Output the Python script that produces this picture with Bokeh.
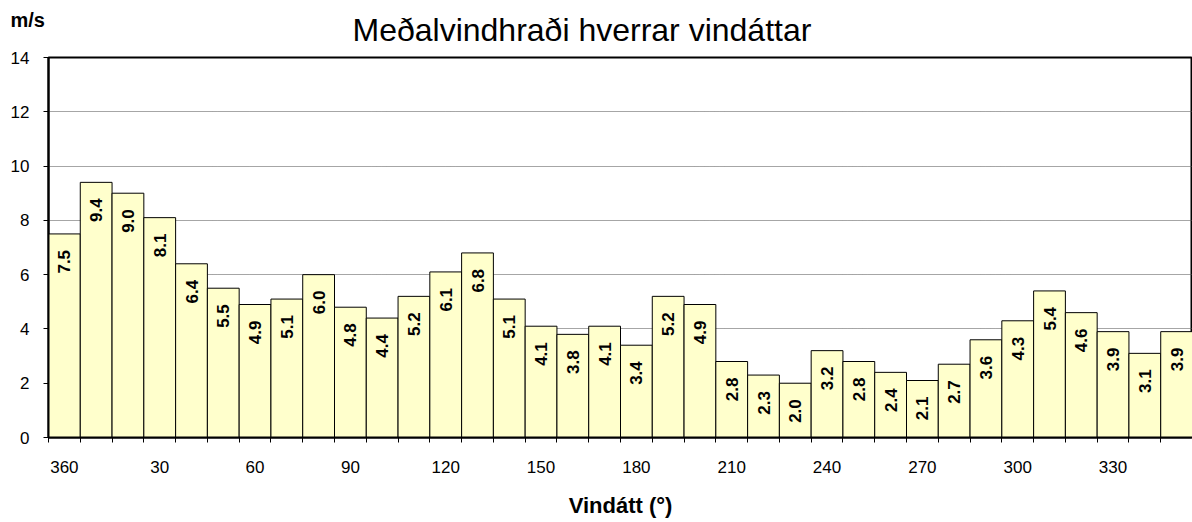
from math import pi
from bokeh.plotting import figure
from bokeh.models import ColumnDataSource, FixedTicker, Range1d, Title
from bokeh.core.properties import value
from bokeh.embed import file_html
from bokeh.resources import INLINE

title_text = "Meðalvindhraði hverrar vindáttar"
y_unit = "m/s"
x_title = "Vindátt (°)"

directions = [360, 10, 20, 30, 40, 50, 60, 70, 80, 90, 100, 110,
              120, 130, 140, 150, 160, 170, 180, 190, 200, 210, 220, 230,
              240, 250, 260, 270, 280, 290, 300, 310, 320, 330, 340, 350]
speeds = [7.5, 9.4, 9.0, 8.1, 6.4, 5.5, 4.9, 5.1, 6.0, 4.8, 4.4, 5.2,
          6.1, 6.8, 5.1, 4.1, 3.8, 4.1, 3.4, 5.2, 4.9, 2.8, 2.3, 2.0,
          3.2, 2.8, 2.4, 2.1, 2.7, 3.6, 4.3, 5.4, 4.6, 3.9, 3.1, 3.9]
labeled_directions = [360, 30, 60, 90, 120, 150, 180, 210, 240, 270, 300, 330]
y_ticks = [0, 2, 4, 6, 8, 10, 12, 14]

pos = list(range(len(directions)))
src = ColumnDataSource(dict(x=pos, top=speeds,
                            lab=["%.1f" % v for v in speeds]))

FONT = "Liberation Sans"

p = figure(width=1192, height=522, output_backend="svg", toolbar_location=None,
           x_range=Range1d(-0.5, len(directions) - 0.5), y_range=Range1d(0, 14),
           min_border_left=48, min_border_right=0, min_border_top=57,
           min_border_bottom=85)
p.background_fill_color = "white"
p.border_fill_color = "white"
p.outline_line_color = "black"
p.outline_line_width = 2

# unit label (outer title, top-left)
p.title.text = y_unit
p.title.align = "left"
p.title.offset = -38
p.title.text_font = FONT
p.title.text_font_style = "bold"
p.title.text_font_size = "20px"
p.title.text_color = "black"
p.title.text_line_height = 1.0
p.title.standoff = -60
# main title (next to the frame), lifted towards the top
p.add_layout(Title(text=title_text, align="left", offset=304, text_font=FONT,
                   text_font_style="normal", text_font_size="32px",
                   text_color="black", text_line_height=1.0, standoff=19), "above")

p.vbar(x="x", top="top", width=1.0, bottom=0, source=src,
       fill_color="#FFFFCC", line_color="black", line_width=1)

p.text(x="x", y="top", text="lab", source=src, angle=pi / 2,
       text_align="right", text_baseline="middle", y_offset=16,
       text_font=value(FONT), text_font_style="bold", text_font_size="17px",
       text_color="black")

# x axis
label_pos = [directions.index(d) for d in labeled_directions]
p.xaxis.ticker = FixedTicker(ticks=label_pos,
                             minor_ticks=[i - 0.5 for i in range(len(directions) + 1)])
p.xaxis.major_label_overrides = {i: str(directions[i]) for i in label_pos}
p.xaxis.major_tick_out = 0
p.xaxis.major_tick_in = 0
p.xaxis.minor_tick_out = 5
p.xaxis.minor_tick_in = 0
p.xaxis.minor_tick_line_color = "black"
p.xaxis.axis_line_color = "black"
p.xaxis.axis_line_width = 2
p.xaxis.major_label_text_font = FONT
p.xaxis.major_label_text_font_size = "17px"
p.xaxis.major_label_text_color = "black"
p.xaxis.major_label_standoff = 18
p.xaxis.axis_label = x_title
p.xaxis.axis_label_text_font = FONT
p.xaxis.axis_label_text_font_style = "bold"
p.xaxis.axis_label_text_font_size = "22px"
p.xaxis.axis_label_text_color = "black"
p.xaxis.axis_label_standoff = 17

# y axis
p.yaxis.ticker = FixedTicker(ticks=y_ticks, minor_ticks=[])
p.yaxis.major_tick_out = 5
p.yaxis.major_tick_in = 0
p.yaxis.major_tick_line_color = "black"
p.yaxis.axis_line_color = "black"
p.yaxis.axis_line_width = 2
p.yaxis.major_label_text_font = FONT
p.yaxis.major_label_text_font_size = "17px"
p.yaxis.major_label_text_color = "black"
p.yaxis.major_label_standoff = 14

p.xgrid.visible = False
p.ygrid.ticker = FixedTicker(ticks=y_ticks[1:-1])
p.ygrid.grid_line_color = "#4d4d4d"
p.ygrid.grid_line_dash = "1 1"
p.ygrid.grid_line_width = 1

open("out.html", "w").write(file_html(p, INLINE))
